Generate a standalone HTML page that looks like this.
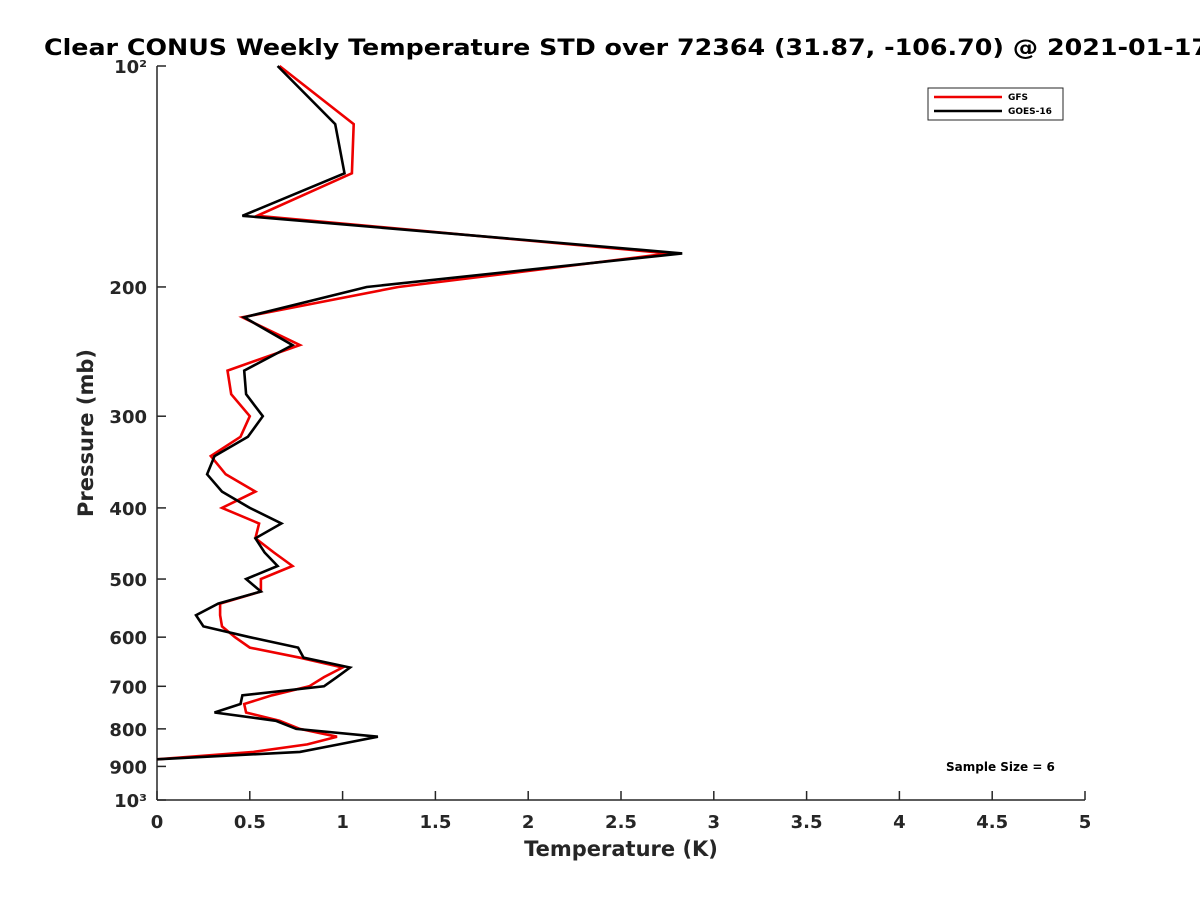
<!DOCTYPE html>
<html><head><meta charset="utf-8"><style>
body{margin:0;background:#fff;}
svg{font-family:"DejaVu Sans","Liberation Sans",sans-serif;font-weight:bold;}
</style></head><body>
<svg id="chart" width="1200" height="900" viewBox="0 0 1200 900">
<rect width="1200" height="900" fill="#fff"/>
<text x="44" y="55" font-size="22" fill="#000" textLength="1165" lengthAdjust="spacingAndGlyphs">Clear CONUS Weekly Temperature STD over 72364 (31.87, -106.70) @ 2021-01-17</text>
<g id="axes"></g>
<g id="series"></g>
<g>
<rect x="928" y="88" width="135" height="32" fill="#fff" stroke="#262626" stroke-width="1"/>
<line x1="934" y1="97" x2="1002" y2="97" stroke="#e00" stroke-width="2.5"/>
<text x="1008" y="100" font-size="9">GFS</text>
<line x1="934" y1="111" x2="1002" y2="111" stroke="#000" stroke-width="2.5"/>
<text x="1008" y="114" font-size="9">GOES-16</text>
</g>
<text x="946" y="771" font-size="12">Sample Size = 6</text>
<text x="621" y="856" text-anchor="middle" font-size="21" fill="#262626">Temperature (K)</text>
<text transform="translate(93,433) rotate(-90)" text-anchor="middle" font-size="21" fill="#262626">Pressure (mb)</text>
</svg>
<script>
const pressures=[100,120,140,160,180,200,220,240,260,280,300,320,340,360,380,400,420,440,460,480,500,520,540,560,580,600,620,640,660,680,700,720,740,760,780,800,820,840,860,880];
const gfsValues=[0.66,1.06,1.05,0.54,2.76,1.30,0.46,0.77,0.38,0.40,0.50,0.45,0.29,0.37,0.53,0.35,0.55,0.53,0.63,0.73,0.56,0.56,0.34,0.34,0.35,0.42,0.50,0.77,1.00,0.90,0.82,0.62,0.47,0.48,0.66,0.77,0.97,0.81,0.52,0.0];
const goesValues=[0.65,0.96,1.01,0.46,2.83,1.13,0.47,0.73,0.47,0.48,0.57,0.49,0.31,0.27,0.35,0.50,0.67,0.53,0.58,0.65,0.48,0.56,0.33,0.21,0.25,0.50,0.76,0.79,1.04,0.97,0.90,0.46,0.45,0.31,0.64,0.75,1.19,0.98,0.77,0.0];
const xTicks=[0,0.5,1,1.5,2,2.5,3,3.5,4,4.5,5];
const xTickLabels=["0","0.5","1","1.5","2","2.5","3","3.5","4","4.5","5"];
const yTicks=[100,200,300,400,500,600,700,800,900,1000];
const yTickLabels=["10²","200","300","400","500","600","700","800","900","10³"];

const L=157,R=1085,T=66,B=800;
const xs=v=>L+(v-0)/(5-0)*(R-L);
const ys=p=>T+(Math.log10(p)-2)*(B-T);
const NS="http://www.w3.org/2000/svg";
function mk(tag,attrs,parent){const e=document.createElementNS(NS,tag);for(const k in attrs)e.setAttribute(k,attrs[k]);parent.appendChild(e);return e;}
const axes=document.getElementById('axes');
const series=document.getElementById('series');
let e=mk('line',{x1:L,y1:T,x2:L,y2:B,stroke:'#262626','stroke-width':1.5},axes);


e=mk('line',{x1:L,y1:B,x2:R,y2:B,stroke:'#262626','stroke-width':1.5},axes);


xTicks.forEach((v,i)=>{
  const x=xs(v);
  const t=mk('line',{x1:x,y1:B,x2:x,y2:B-9,stroke:'#262626','stroke-width':1.5},axes);
  
  
  const l=mk('text',{x:x,y:B+28,'text-anchor':'middle','font-size':18,fill:'#262626'},axes);
  l.textContent=xTickLabels[i];
  
  
});
yTicks.forEach((p,i)=>{
  const y=ys(p);
  const t=mk('line',{x1:L,y1:y,x2:L+9,y2:y,stroke:'#262626','stroke-width':1.5},axes);
  
  
  const l=mk('text',{x:L-10,y:y+7,'text-anchor':'end','font-size':18,fill:'#262626'},axes);
  l.textContent=yTickLabels[i];
  
  
});
function line(vals,color,name){
  const pts=vals.map((v,i)=>xs(v).toFixed(1)+','+ys(pressures[i]).toFixed(1)).join(' ');
  const pl=mk('polyline',{points:pts,fill:'none',stroke:color,'stroke-width':2.6,'stroke-linejoin':'miter'},series);
  
  
}
line(gfsValues,'#e00','gfs-line');
line(goesValues,'#000','goes16-line');
</script>
</body></html>
